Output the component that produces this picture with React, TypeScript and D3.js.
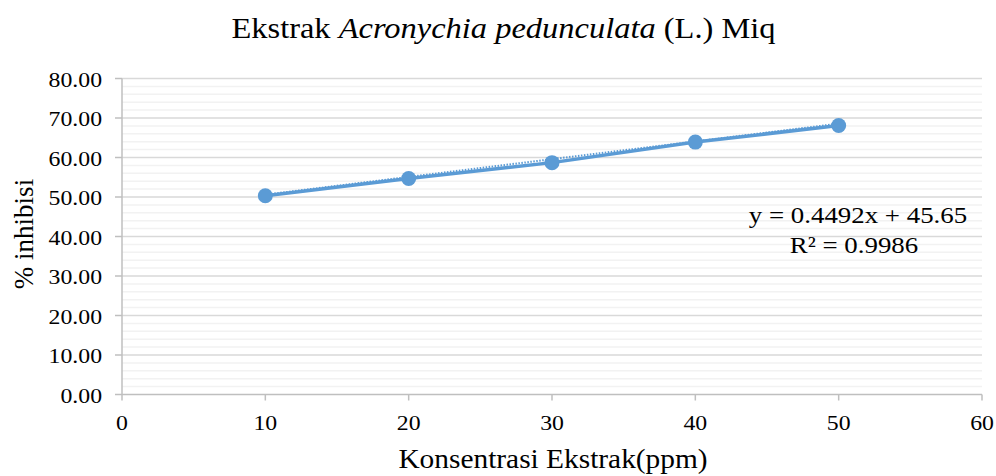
import React from "react";
import * as d3 from "d3";

const concentrations = [10, 20, 30, 40, 50];
const inhibition = [50.3, 54.7, 58.7, 63.9, 68.1];
const slope = 0.4492;
const intercept = 45.65;
const xTicks = [0, 10, 20, 30, 40, 50, 60];
const yTicks = [0, 10, 20, 30, 40, 50, 60, 70, 80];
const yMinor = d3.range(0, 80, 2).filter((v) => v % 10 !== 0);
const equationText = "y = 0.4492x + 45.65";
const r2Text = "R² = 0.9986";

const W = 996;
const H = 476;
const left = 122;
const right = 982;
const top = 78.5;
const bottom = 394.5;
const BLUE = "#5B9BD5";
const FONT = "'Liberation Serif', 'Times New Roman', serif";
const SX = 1.1;

function T({ x, y, size, anchor = "middle", sx = SX, children }: any) {
  return (
    <text
      transform={`translate(${x},${y}) scale(${sx},1)`}
      fontSize={size}
      textAnchor={anchor}
      fill="#000"
    >
      {children}
    </text>
  );
}

export default function App() {
  const x = d3.scaleLinear().domain([0, 60]).range([left, right]);
  const y = d3.scaleLinear().domain([0, 80]).range([bottom, top]);
  const line = d3
    .line<number>()
    .x((_, i) => x(concentrations[i]))
    .y((d) => y(d));
  const trend = d3
    .line<number>()
    .x((d) => x(d))
    .y((d) => y(slope * d + intercept));

  return (
    <svg width={W} height={H} style={{ position: "absolute", left: 0, top: 0 }} fontFamily={FONT}>
      <rect width={W} height={H} fill="#fff" />
      <T x={503.5} y={38} size={29} sx={1.12}>
        Ekstrak <tspan fontStyle="italic">Acronychia pedunculata</tspan> (L.) Miq
      </T>
      {yMinor.map((v) => (
        <line key={"m" + v} x1={left} x2={right} y1={y(v)} y2={y(v)} stroke="#F2F2F2" strokeWidth={1.5} />
      ))}
      {yTicks.slice(1).map((v) => (
        <line key={"g" + v} x1={left} x2={right} y1={y(v)} y2={y(v)} stroke="#D9D9D9" strokeWidth={1.5} />
      ))}
      <line x1={left} x2={left} y1={top} y2={bottom} stroke="#BFBFBF" strokeWidth={1.5} />
      <line x1={left} x2={right} y1={bottom} y2={bottom} stroke="#BFBFBF" strokeWidth={1.5} />
      {yTicks.map((v) => (
        <g key={"yt" + v}>
          <line x1={left - 7} x2={left} y1={y(v)} y2={y(v)} stroke="#BFBFBF" strokeWidth={1.5} />
          <T x={102} y={y(v) + 8.3} size={22} anchor="end" sx={1.08}>
            {v.toFixed(2)}
          </T>
        </g>
      ))}
      {xTicks.map((v) => (
        <g key={"xt" + v}>
          <line x1={x(v)} x2={x(v)} y1={bottom} y2={bottom + 6} stroke="#BFBFBF" strokeWidth={1.5} />
          <T x={x(v)} y={430} size={22} sx={1.08}>
            {v}
          </T>
        </g>
      ))}
      <T x={553} y={468} size={28} sx={1.05}>
        Konsentrasi Ekstrak(ppm)
      </T>
      <text
        transform={`translate(33, 234) rotate(-90)`}
        fontSize={27}
        textAnchor="middle"
        fill="#000"
      >
        % inhibisi
      </text>
      <path
        d={trend([10, 50]) || ""}
        fill="none"
        stroke={BLUE}
        strokeWidth={2}
        strokeDasharray="1.5 1.5"
        transform="translate(0,-1.8)"
      />
      <path d={line(inhibition) || ""} fill="none" stroke={BLUE} strokeWidth={3.5} />
      {inhibition.map((v, i) => (
        <circle key={"p" + i} cx={x(concentrations[i])} cy={y(v)} r={7.5} fill={BLUE} />
      ))}
      <T x={858} y={223} size={24} sx={1.12}>
        {equationText}
      </T>
      <T x={854} y={253} size={24} sx={1.12}>
        {r2Text}
      </T>
    </svg>
  );
}
